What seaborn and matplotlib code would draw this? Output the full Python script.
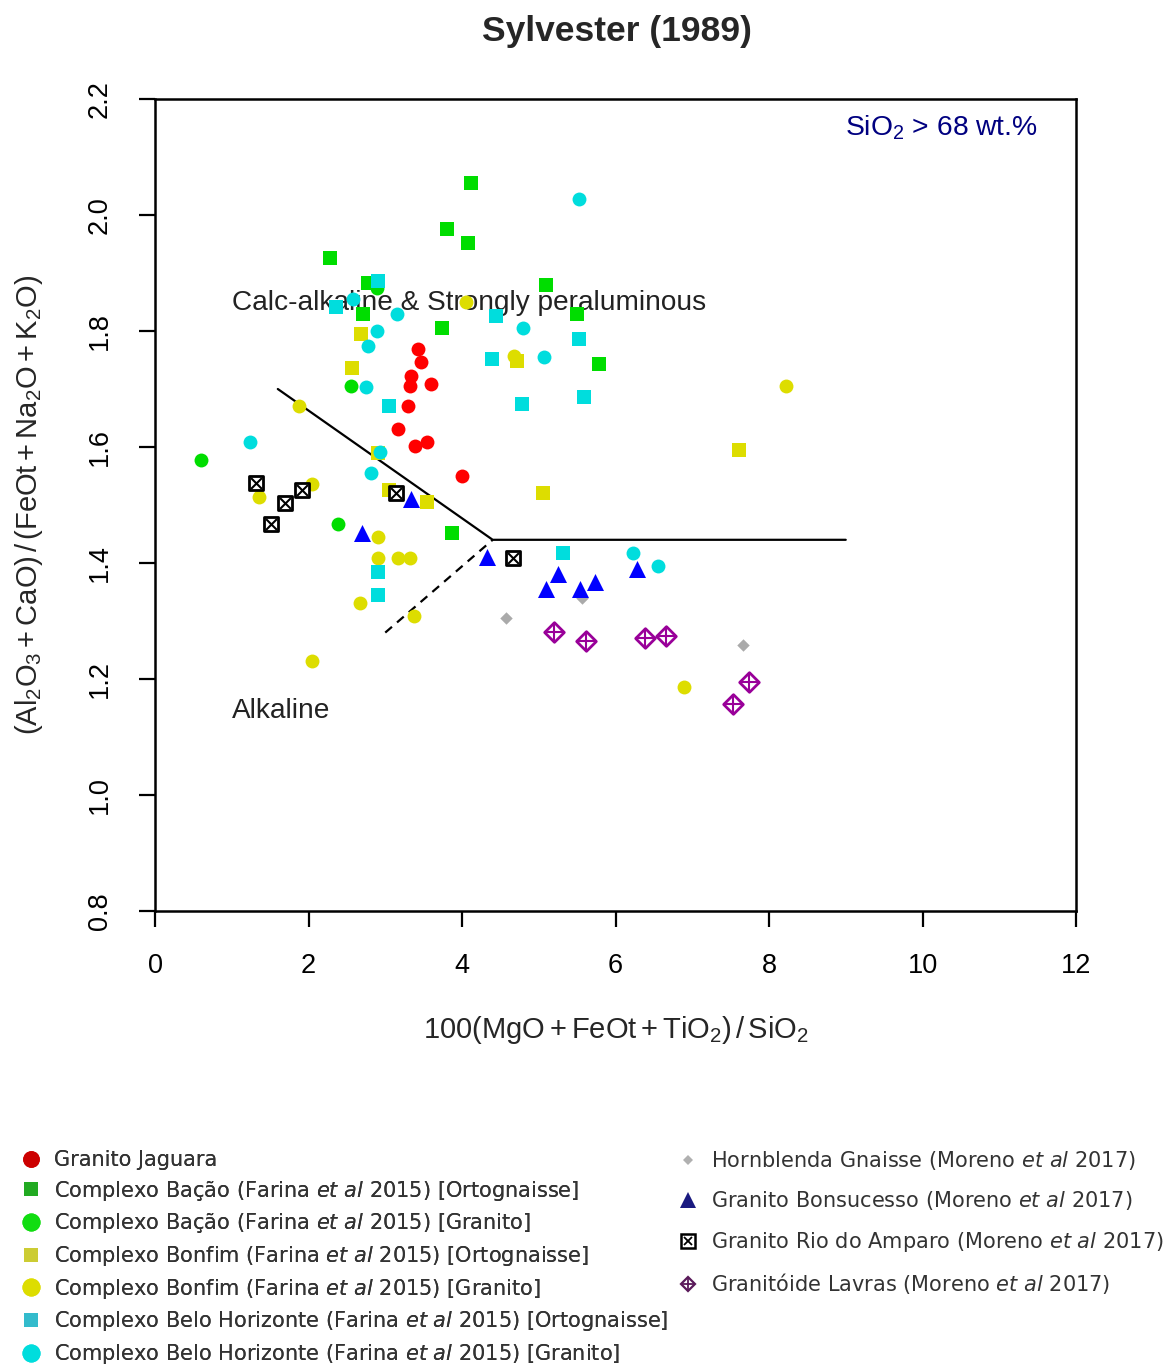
import numpy as np
import pandas as pd
import matplotlib
matplotlib.use("Agg")
import matplotlib.pyplot as plt
from matplotlib.lines import Line2D
import seaborn as sns

sns.set_style("white")
plt.rcParams["font.family"] = ["Liberation Sans", "DejaVu Sans"]
plt.rcParams["mathtext.fontset"] = "custom"
plt.rcParams["mathtext.rm"] = "Liberation Sans"
plt.rcParams["mathtext.it"] = "Liberation Sans:italic"
plt.rcParams["mathtext.bf"] = "Liberation Sans:bold"

# ---------------- data ----------------
jaguara_x = [3.43, 3.46, 3.34, 3.32, 3.60, 3.29, 3.17, 3.39, 3.55, 4.00]
jaguara_y = [1.769, 1.747, 1.723, 1.706, 1.709, 1.671, 1.631, 1.601, 1.608, 1.550]

bacao_ort_x = [4.12, 3.80, 4.08, 2.28, 2.78, 5.09, 2.71, 5.50, 3.74, 5.79, 3.87]
bacao_ort_y = [2.055, 1.976, 1.952, 1.926, 1.882, 1.880, 1.830, 1.829, 1.806, 1.743, 1.452]

bacao_gra_x = [0.60, 2.56, 2.39, 2.89]
bacao_gra_y = [1.578, 1.706, 1.468, 1.874]

bonfim_ort_x = [2.69, 2.57, 2.91, 3.05, 3.55, 4.72, 7.61, 5.06]
bonfim_ort_y = [1.795, 1.736, 1.589, 1.526, 1.505, 1.748, 1.594, 1.520]

bonfim_gra_x = [1.88, 4.05, 4.68, 8.22, 2.05, 1.35, 2.91, 2.91, 3.17, 3.32, 2.67, 3.38, 2.04, 6.89]
bonfim_gra_y = [1.671, 1.850, 1.757, 1.706, 1.537, 1.514, 1.444, 1.409, 1.409, 1.409, 1.331, 1.309, 1.231, 1.187]

bh_ort_x = [2.90, 2.36, 3.05, 4.44, 5.53, 4.39, 4.78, 5.59, 2.91, 2.91, 5.31]
bh_ort_y = [1.886, 1.841, 1.671, 1.826, 1.786, 1.752, 1.675, 1.687, 1.384, 1.345, 1.418]

bh_gra_x = [5.52, 2.58, 3.15, 2.89, 2.77, 2.75, 1.24, 2.93, 2.82, 4.79, 5.07, 6.23, 6.56]
bh_gra_y = [2.028, 1.856, 1.829, 1.800, 1.775, 1.703, 1.609, 1.591, 1.556, 1.806, 1.756, 1.418, 1.394]

hornblenda_x = [5.57, 4.57, 7.66]
hornblenda_y = [1.339, 1.305, 1.259]

bonsucesso_x = [3.33, 2.70, 4.33, 5.25, 5.09, 5.54, 5.73, 6.28]
bonsucesso_y = [1.510, 1.451, 1.410, 1.381, 1.356, 1.356, 1.368, 1.389]

amparo_x = [1.32, 1.69, 1.92, 1.51, 3.14, 4.67]
amparo_y = [1.538, 1.504, 1.526, 1.468, 1.520, 1.408]

lavras_x = [5.20, 5.61, 6.38, 6.66, 7.74, 7.53]
lavras_y = [1.281, 1.265, 1.270, 1.274, 1.194, 1.157]

# discrimination lines
solid_x = [1.6, 4.4, 9.0]
solid_y = [1.70, 1.44, 1.44]
dashed_x = [3.0, 4.4]
dashed_y = [1.28, 1.44]

x_ticks = [0, 2, 4, 6, 8, 10, 12]
y_ticks = [0.8, 1.0, 1.2, 1.4, 1.6, 1.8, 2.0, 2.2]
y_tick_labels = ["0.8", "1.0", "1.2", "1.4", "1.6", "1.8", "2.0", "2.2"]

labels_left = [
    "Granito Jaguara",
    r"Complexo Bação (Farina $\mathit{et\ al}$ 2015) [Ortognaisse]",
    r"Complexo Bação (Farina $\mathit{et\ al}$ 2015) [Granito]",
    r"Complexo Bonfim (Farina $\mathit{et\ al}$ 2015) [Ortognaisse]",
    r"Complexo Bonfim (Farina $\mathit{et\ al}$ 2015) [Granito]",
    r"Complexo Belo Horizonte (Farina $\mathit{et\ al}$ 2015) [Ortognaisse]",
    r"Complexo Belo Horizonte (Farina $\mathit{et\ al}$ 2015) [Granito]",
]
labels_right = [
    r"Hornblenda Gnaisse (Moreno $\mathit{et\ al}$ 2017)",
    r"Granito Bonsucesso (Moreno $\mathit{et\ al}$ 2017)",
    r"Granito Rio do Amparo (Moreno $\mathit{et\ al}$ 2017)",
    r"Granitóide Lavras (Moreno $\mathit{et\ al}$ 2017)",
]

RED = "#ff0000"
GREEN = "#00dd00"
YELLOW = "#dddd00"
CYAN = "#00dddd"
GRAY = "#aaaaaa"
BLUE = "#0000ff"
PURPLE = "#990099"

# ---------------- figure ----------------
W, H = 1166, 1367
fig = plt.figure(figsize=(W / 100, H / 100), dpi=100)
ax = fig.add_axes([155 / W, 1 - 911 / H, (1076 - 155) / W, (911 - 99) / H])

ax.plot(solid_x, solid_y, color="black", lw=1.6, zorder=2)
ax.plot(dashed_x, dashed_y, color="black", lw=1.6, ls=(0, (4, 3)), zorder=2)

def pts(x, y):
    return pd.DataFrame({"x": x, "y": y})

common = dict(x="x", y="y", ax=ax, legend=False)
sns.scatterplot(data=pts(jaguara_x, jaguara_y), marker="o", s=100, color=RED, linewidth=0, zorder=3, **common)
sns.scatterplot(data=pts(bacao_ort_x, bacao_ort_y), marker="s", s=88, color=GREEN, linewidth=0, zorder=3, **common)
sns.scatterplot(data=pts(bacao_gra_x, bacao_gra_y), marker="o", s=100, color=GREEN, linewidth=0, zorder=3, **common)
sns.scatterplot(data=pts(bonfim_ort_x, bonfim_ort_y), marker="s", s=88, color=YELLOW, linewidth=0, zorder=3, **common)
sns.scatterplot(data=pts(bonfim_gra_x, bonfim_gra_y), marker="o", s=100, color=YELLOW, linewidth=0, zorder=3, **common)
sns.scatterplot(data=pts(bh_ort_x, bh_ort_y), marker="s", s=95, color=CYAN, linewidth=0, zorder=3, **common)
sns.scatterplot(data=pts(bh_gra_x, bh_gra_y), marker="o", s=100, color=CYAN, linewidth=0, zorder=3, **common)
sns.scatterplot(data=pts(hornblenda_x, hornblenda_y), marker="D", s=40, color=GRAY, linewidth=0, zorder=3, **common)
sns.scatterplot(data=pts(bonsucesso_x, bonsucesso_y), marker="^", s=150, color=BLUE, linewidth=0, zorder=3, **common)
sns.scatterplot(data=pts(amparo_x, amparo_y), marker="s", s=95, facecolor="white", edgecolor="black", linewidth=2, zorder=3, **common)
sns.scatterplot(data=pts(amparo_x, amparo_y), marker="x", s=60, color="black", linewidth=1.5, zorder=4, **common)
sns.scatterplot(data=pts(lavras_x, lavras_y), marker="D", s=100, facecolor="white", edgecolor=PURPLE, linewidth=2, zorder=3, **common)
sns.scatterplot(data=pts(lavras_x, lavras_y), marker="+", s=190, color=PURPLE, linewidth=1.5, zorder=4, **common)

ax.set_xlim(0, 12)
ax.set_ylim(0.8, 2.2)
ax.set_xticks(x_ticks)
ax.set_xticklabels([str(t) for t in x_ticks])
ax.set_yticks(y_ticks)
ax.set_yticklabels(y_tick_labels, rotation=90, va="center")
for s in ax.spines.values():
    s.set_color("black")
    s.set_linewidth(1.8)
ax.tick_params(axis="both", which="major", direction="out", length=11.5, width=1.6,
               labelsize=19.5, colors="black", bottom=True, left=True)
ax.tick_params(axis="x", pad=19)
ax.tick_params(axis="y", pad=19)

ax.set_xlabel(r"$\mathregular{100(MgO + FeOt + TiO_2)\,/\,SiO_2}$", fontsize=21, labelpad=25)
ax.set_ylabel(r"$\mathregular{(Al_2O_3 + CaO)\,/\,(FeOt + Na_2O + K_2O)}$", fontsize=21, labelpad=30)

ax.text(1.0, 1.848, "Calc-alkaline & Strongly peraluminous", fontsize=20.2, color="#222222",
        ha="left", va="center", zorder=2.5)
ax.text(1.0, 1.145, "Alkaline", fontsize=20.2, color="#222222", ha="left", va="center", zorder=2.5)
ax.text(8.99, 2.15, r"$\mathregular{SiO_2}$ > 68 wt.%", fontsize=20.3, color="#000080",
        ha="left", va="center")

fig.text(617 / W, 1 - 31 / H, "Sylvester (1989)", fontsize=25.5, fontweight="bold",
         ha="center", va="center")

# ---------------- legends ----------------
def mk(marker, color, ms, mfc=None, mew=0):
    return Line2D([], [], ls="none", marker=marker, color=color, ms=ms,
                  mfc=mfc if mfc is not None else color, mec=color, mew=mew)

LCOLS = ["#cc0000", "#22aa22", "#11dd11", "#cccc33", "#dddd00", "#33bbcc", "#00dddd"]
h_left = [
    mk("o", LCOLS[0], 12),
    mk("s", LCOLS[1], 10),
    mk("o", LCOLS[2], 13),
    mk("s", LCOLS[3], 10),
    mk("o", LCOLS[4], 13),
    mk("s", LCOLS[5], 10),
    mk("o", LCOLS[6], 13),
]
h_right = [
    mk("D", "#b0b0b0", 5),
    mk("^", "#1a1a80", 12),
    (mk("s", "black", 10, mfc="white", mew=1.8), mk("x", "black", 6, mew=1.3)),
    (mk("D", "#5a1a5a", 7, mfc="white", mew=1.6), mk("+", "#5a1a5a", 10, mew=1.3)),
]

LFS = 15
leg1 = fig.legend(h_left, labels_left, loc="upper left", bbox_to_anchor=(21 / W, 1 - 1150 / H),
                  frameon=False, handlelength=1.0, handletextpad=0.58,
                  labelspacing=0.415, borderpad=0, borderaxespad=0, labelcolor="#333333",
                  prop={"family": "DejaVu Sans", "size": LFS})
leg2 = fig.legend(h_right, labels_right, loc="upper left", bbox_to_anchor=(678 / W, 1 - 1149 / H),
                  frameon=False, handlelength=1.0, handletextpad=0.6,
                  labelspacing=0.84, borderpad=0, borderaxespad=0, labelcolor="#333333",
                  prop={"family": "DejaVu Sans", "size": LFS})
for lg in (leg1, leg2):
    for t in lg.get_texts():
        t.set_math_fontfamily("dejavusans")
fig.add_artist(leg1)

fig.savefig("out.png", dpi=100)
